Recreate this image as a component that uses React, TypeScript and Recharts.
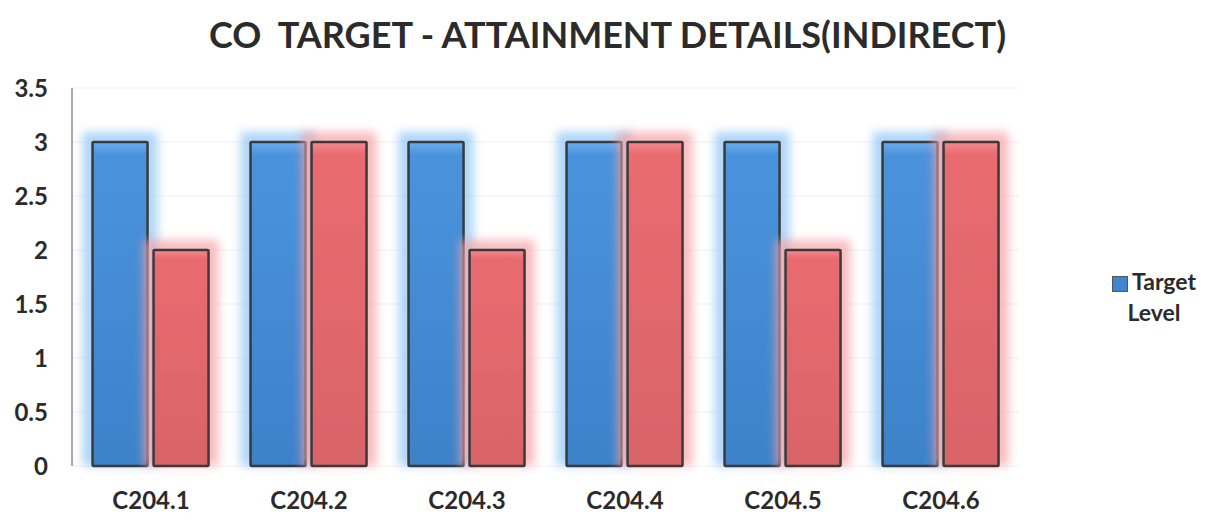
import React from 'react';
import {
  BarChart,
  Bar,
  XAxis,
  YAxis,
  CartesianGrid,
  Legend,
} from 'recharts';

const categories = ['C204.1', 'C204.2', 'C204.3', 'C204.4', 'C204.5', 'C204.6'];
const targetLevel = [3, 3, 3, 3, 3, 3];
const attainmentLevel = [2, 3, 2, 3, 2, 3];
const yTicks = [0, 0.5, 1, 1.5, 2, 2.5, 3, 3.5];

const data = categories.map((name, i) => ({
  name,
  target: targetLevel[i],
  attainment: attainmentLevel[i],
}));

const FONT = 'Lato, "Open Sans", sans-serif';

function GlowBar(props: any) {
  const { x, y, width, height, glow, gradId } = props;
  if (!height || height <= 0) return null;
  return (
    <g>
      <rect
        x={x - 10}
        y={y - 10}
        width={width + 20}
        height={height + 10}
        fill={glow}
        filter="url(#softGlow)"
        opacity={0.7}
      />
      <rect
        x={x}
        y={y}
        width={width}
        height={height}
        fill={`url(#${gradId})`}
        stroke="#3a3a3a"
        strokeWidth={2.5}
        rx={1}
      />
    </g>
  );
}

function LegendContent() {
  return (
    <div
      style={{
        fontFamily: FONT,
        fontWeight: 700,
        fontSize: 23,
        color: '#2b2b2b',
        lineHeight: '31px',
        textAlign: 'center',
        width: 110,
      }}
    >
      <span
        style={{
          display: 'inline-block',
          width: 14,
          height: 14,
          background: '#3f86cf',
          border: '1px solid #555',
          marginRight: 4,
          verticalAlign: 'middle',
        }}
      />
      Target
      <br />
      Level
    </div>
  );
}

export default function App() {
  return (
    <div style={{ position: 'absolute', left: 0, top: 0, width: 1215, height: 524, background: '#fff' }}>
      <div
        style={{
          position: 'absolute',
          top: 12,
          left: 0,
          width: 1215,
          textAlign: 'center',
          fontFamily: FONT,
          fontWeight: 700,
          fontSize: 36,
          color: '#2b2b2b',
          whiteSpace: 'pre',
        }}
      >
        {'CO  TARGET - ATTAINMENT DETAILS(INDIRECT)'}
      </div>
      <BarChart
        width={1215}
        height={524}
        data={data}
        margin={{ top: 88, right: 85, left: 0, bottom: 28 }}
        barCategoryGap="13%"
        barGap={6}
      >
        <defs>
          <filter id="softGlow" x="-30%" y="-30%" width="160%" height="160%">
            <feGaussianBlur stdDeviation="5" />
          </filter>
          <linearGradient id="blueGrad" x1="0" y1="0" x2="0" y2="1">
            <stop offset="0%" stopColor="#6aaef0" />
            <stop offset="4%" stopColor="#4a93dc" />
            <stop offset="100%" stopColor="#3d82c9" />
          </linearGradient>
          <linearGradient id="redGrad" x1="0" y1="0" x2="0" y2="1">
            <stop offset="0%" stopColor="#f48a8e" />
            <stop offset="4%" stopColor="#e96b70" />
            <stop offset="100%" stopColor="#d86468" />
          </linearGradient>
        </defs>
        <CartesianGrid vertical={false} stroke="#f1f1f1" />
        <XAxis
          dataKey="name"
          height={30}
          axisLine={false}
          tickLine={false}
          tickMargin={20}
          tick={{ fontFamily: FONT, fontWeight: 700, fontSize: 24, fill: '#2b2b2b' }}
        />
        <YAxis
          width={72}
          domain={[0, 3.5]}
          ticks={yTicks}
          interval={0}
          axisLine={{ stroke: '#555', strokeWidth: 1 }}
          tickLine={false}
          tickMargin={18}
          tick={{ fontFamily: FONT, fontWeight: 700, fontSize: 24, fill: '#2b2b2b' }}
        />
        <Legend
          layout="vertical"
          align="right"
          verticalAlign="middle"
          content={<LegendContent />}
          wrapperStyle={{ right: 6, top: 266 }}
        />
        <Bar
          dataKey="target"
          name="Target Level"
          isAnimationActive={false}
          shape={(p: any) => <GlowBar {...p} glow="#8cc4f5" gradId="blueGrad" />}
        />
        <Bar
          dataKey="attainment"
          name="Attainment Level"
          isAnimationActive={false}
          shape={(p: any) => <GlowBar {...p} glow="#f5a0a6" gradId="redGrad" />}
        />
      </BarChart>
    </div>
  );
}
